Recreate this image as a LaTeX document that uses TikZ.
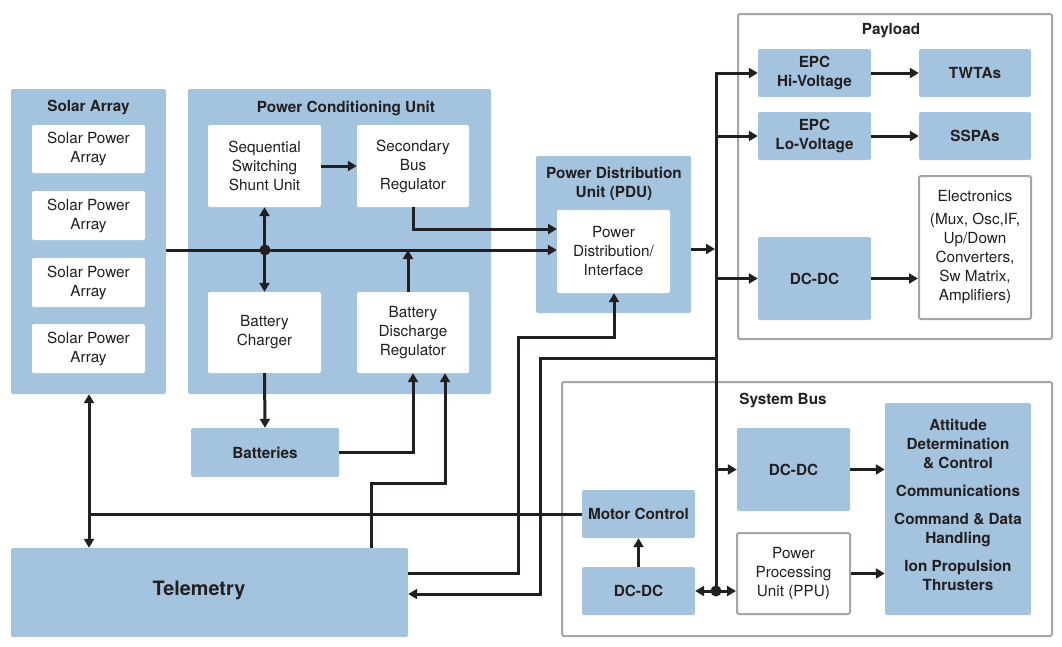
\documentclass[tikz,border=0pt]{standalone}
\usepackage{fontspec}
\setmainfont{TeX Gyre Heros}
\usetikzlibrary{arrows.meta,calc}
\definecolor{bl}{RGB}{164,195,222}
\definecolor{ink}{RGB}{35,31,32}
\definecolor{gr}{RGB}{165,165,165}
\tikzset{
  sz/.style 2 args={minimum width=#1pt, minimum height=#2pt},
  blu/.style={fill=bl, rounded corners=2pt},
  wht/.style={fill=white, rounded corners=2pt},
  wbox/.style={fill=white, draw=gr, line width=2pt, rounded corners=2pt},
  bf/.style={font=\fontsize{15.3}{19}\selectfont\bfseries},
  wire/.style={draw=ink, line width=3pt},
  arr/.style={wire, -{Triangle[length=9pt,width=10pt]}},
  darr/.style={wire, {Triangle[length=9pt,width=10pt]}-{Triangle[length=9pt,width=10pt]}},
}
\begin{document}
\begin{tikzpicture}[x=1pt,y=-1pt,
  every node/.style={inner sep=0pt, text=ink, align=center, font=\fontsize{15.3}{19}\selectfont}]
\useasboundingbox (0,0) rectangle (1062,646);
% Solar array
\node[blu, sz={155}{305}] (sa) at (88.5,241.5) {};
\node[bf] (satitle) at (88.5,108) {Solar Array};
\node[wht, sz={113}{48}] (spa1) at (88.5,149) {Solar Power\\Array};
\node[wht, sz={113}{49}] (spa2) at (88.5,215.5) {Solar Power\\Array};
\node[wht, sz={113}{49}] (spa3) at (88.5,282.5) {Solar Power\\Array};
\node[wht, sz={113}{49}] (spa4) at (88.5,348.5) {Solar Power\\Array};
% PCU
\node[blu, sz={303}{305}] (pcu) at (339.5,241.5) {};
\node[bf] (pcutitle) at (346,108) {Power Conditioning Unit};
\node[wht, sz={113}{82}] (sssu) at (264.5,166) {Sequential\\Switching\\Shunt Unit};
\node[wht, sz={112}{82}] (sbr) at (413,166) {Secondary\\Bus\\Regulator};
\node[wht, sz={113}{81}] (bc) at (264.5,332.5) {Battery\\Charger};
\node[wht, sz={112}{81}] (bdr) at (413,332.5) {Battery\\Discharge\\Regulator};
\node[blu, bf, sz={148}{49}] (bat) at (265,452.5) {Batteries};
% Telemetry
\node[blu, sz={397}{89}] (tel) at (209.5,592.5) {};
\node[font=\fontsize{19.8}{22}\selectfont\bfseries] (teltext) at (199,590) {Telemetry};
% PDU
\node[blu, sz={155}{157}] (pdu) at (613.5,234.5) {};
\node[bf] (pdutitle) at (614,183.5) {Power Distribution\\Unit (PDU)};
\node[wht, sz={113}{83}] (pdui) at (613.5,251.5) {Power\\Distribution/\\Interface};
% Payload
\node[wbox, sz={314}{325}] (pl) at (895,176.5) {};
\node[bf] (pltitle) at (891,31) {Payload};
\node[blu,bf,sz={113}{48}] (epchi) at (814.5,73) {EPC\\Hi-Voltage};
\node[blu,bf,sz={112}{48}] (twta) at (975,73) {TWTAs};
\node[blu,bf,sz={113}{48}] (epclo) at (814.5,136) {EPC\\Lo-Voltage};
\node[blu,bf,sz={112}{48}] (sspa) at (975,136) {SSPAs};
\node[blu,bf,sz={113}{83}] (dcp) at (814.5,278.5) {DC-DC};
\node[wbox,sz={112}{143}] (elec) at (975,247.5) {Electronics\\[4pt](Mux, Osc,IF,\\Up/Down\\Converters,\\Sw Matrix,\\Amplifiers)};
% System bus
\node[wbox, sz={490}{254}] (sb) at (807,509) {};
\node[bf] (sbtitle) at (783,400) {System Bus};
\node[blu,bf,sz={113}{83}] (dcs) at (793.5,469.5) {DC-DC};
\node[wbox,sz={113}{81}] (ppu) at (793.5,573.5) {Power\\Processing\\Unit (PPU)};
\node[blu,sz={146}{212}] (big) at (958,509) {};
\node[bf] (bigtext) at (958,505) {Attitude\\Determination\\\& Control\\[9pt]Communications\\[9pt]Command \& Data\\Handling\\[9pt]Ion Propulsion\\Thrusters};
\node[blu,bf,sz={113}{48}] (mc) at (638.5,514) {Motor Control};
\node[blu,bf,sz={113}{48}] (dcb) at (638.5,591) {DC-DC};
% junctions
\coordinate (busdot) at (265,250);
\coordinate (pin1) at (557,229);
\coordinate (bdrup) at (408,250);
\coordinate (t1) at (371,483);
\coordinate (t2) at (445,483);
\coordinate (sx) at (89,513);
\coordinate (a1) at (518,573);
\coordinate (a2) at (518,337);
\coordinate (a3) at (614,337);
\coordinate (b1) at (716,358);
\coordinate (b2) at (540,358);
\coordinate (b3) at (540,594);
\coordinate (vbpdu) at (715,249);
\coordinate (vbtop) at (716,73);
\coordinate (vbdot) at (716,591);
% wires
\draw[arr] (sa.east |- busdot) -- (pdui.west |- busdot);
\draw[darr] (sssu.south) -- (bc.north);
\fill[ink] (busdot) circle[radius=5.5pt];
\draw[arr] (sssu.east) -- (sbr.west);
\draw[arr] (sbr.south) |- (pin1);
\draw[arr] (bdr.north -| bdrup) -- (bdrup);
\draw[arr] (bc.south) -- (bat.north);
\draw[arr] (bat.east) -| (bdr.south);
\draw[arr] (tel.north -| t1) -- (t1) -- (t2) -- (bdr.south -| t2);
\draw[darr] (sa.south -| sx) -- (tel.north -| sx);
\draw[wire] (mc.west) -- (mc.west -| sx);
\draw[arr] (tel.east |- a1) -- (a1) -- (a2) -- (a3) -- (pdui.south -| a3);
\draw[arr] (b1) -- (b2) -- (b3) -- (tel.east |- b3);
\draw[arr] (pdu.east |- vbpdu) -- (vbpdu);
\draw[arr] (vbdot) -- (vbtop) -- (epchi.west);
\draw[arr] (epclo.west -| vbtop) -- (epclo.west);
\draw[arr] (dcp.west -| vbtop) -- (dcp.west);
\draw[arr] (dcs.west -| vbtop) -- (dcs.west);
\fill[ink] (vbdot) circle[radius=5.5pt];
\draw[arr] (vbdot) -- (dcb.east);
\draw[arr] (vbdot) -- (ppu.west |- vbdot);
\draw[arr] (epchi.east) -- (twta.west);
\draw[arr] (epclo.east) -- (sspa.west);
\draw[arr] (dcp.east) -- (elec.west |- dcp.east);
\draw[arr] (dcs.east) -- (big.west |- dcs.east);
\draw[arr] (ppu.east) -- (big.west |- ppu.east);
\draw[arr] (dcb.north) -- (mc.south);
\end{tikzpicture}
\end{document}
